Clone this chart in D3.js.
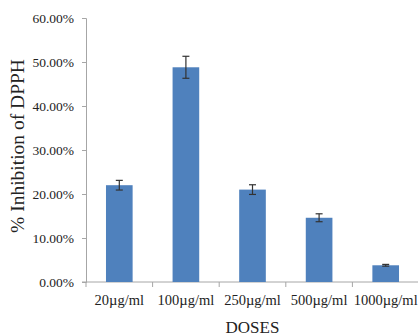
<!DOCTYPE html>
<html>
<head>
<meta charset="utf-8">
<script src="https://cdn.jsdelivr.net/npm/d3@7"></script>
<style>
  html, body { margin: 0; padding: 0; background: #fff; }
  svg { display: block; }
</style>
</head>
<body>
<svg id="chart" width="418" height="336"></svg>
<script>
// DPPH inhibition by dose (mean ± error)
const doses = ["20µg/ml", "100µg/ml", "250µg/ml", "500µg/ml", "1000µg/ml"];
const inhibition = [0.220, 0.488, 0.210, 0.146, 0.038];
const errors = [0.011, 0.025, 0.011, 0.009, 0.002];
const yTicks = [0, 0.1, 0.2, 0.3, 0.4, 0.5, 0.6];

const svg = d3.select("#chart");
const plotLeft = 86, plotRight = 419, plotTop = 18, plotBottom = 282;
const font = "'Liberation Serif', 'Times New Roman', serif";
const axisColor = "#a6a6a6";

const x = d3.scaleBand().domain(doses).range([plotLeft, plotRight])
  .paddingInner(0.6).paddingOuter(0.3);
const y = d3.scaleLinear().domain([0, 0.6]).range([plotBottom, plotTop]);

// y axis
const yAxis = svg.append("g").attr("transform", `translate(${plotLeft},0)`)
  .call(d3.axisLeft(y).tickValues(yTicks).tickSize(4).tickPadding(8)
    .tickFormat(d => (d * 100).toFixed(2) + "%"));
yAxis.select(".domain").attr("stroke", axisColor);
yAxis.selectAll(".tick line").attr("stroke", axisColor);
yAxis.selectAll(".tick text").attr("font-family", font).attr("font-size", 13.5)
  .attr("fill", "#222");

// x axis baseline with category separators
const xg = svg.append("g");
xg.append("line").attr("x1", plotLeft - 4).attr("x2", plotRight)
  .attr("y1", plotBottom).attr("y2", plotBottom).attr("stroke", axisColor);
const bounds = doses.map(d => x(d) - x.step() * 0.3).concat([plotRight]);
xg.selectAll("line.sep").data(bounds).join("line").attr("class", "sep")
  .attr("x1", d => d).attr("x2", d => d).attr("y1", plotBottom).attr("y2", plotBottom + 5)
  .attr("stroke", axisColor);
xg.selectAll("text").data(doses).join("text")
  .attr("x", d => x(d) + x.bandwidth() / 2).attr("y", 305)
  .attr("text-anchor", "middle").attr("font-family", font).attr("font-size", 14.5)
  .attr("fill", "#222").text(d => d);

// bars
svg.append("g").selectAll("rect").data(doses).join("rect")
  .attr("x", d => x(d)).attr("width", x.bandwidth())
  .attr("y", (d, i) => y(inhibition[i]))
  .attr("height", (d, i) => y(0) - y(inhibition[i]))
  .attr("fill", "#4f81bd");

// error bars
const eg = svg.append("g").attr("stroke", "#333").attr("stroke-width", 1.2);
doses.forEach((d, i) => {
  const cx = x(d) + x.bandwidth() / 2;
  const hi = y(inhibition[i] + errors[i]), lo = y(inhibition[i] - errors[i]);
  eg.append("line").attr("x1", cx).attr("x2", cx).attr("y1", hi).attr("y2", lo);
  eg.append("line").attr("x1", cx - 3.5).attr("x2", cx + 3.5).attr("y1", hi).attr("y2", hi);
  eg.append("line").attr("x1", cx - 3.5).attr("x2", cx + 3.5).attr("y1", lo).attr("y2", lo);
});

// axis titles
svg.append("text").attr("transform", `translate(24,146) rotate(-90)`)
  .attr("text-anchor", "middle").attr("font-family", font).attr("font-size", 19.5)
  .attr("fill", "#222").text("% Inhibition of DPPH");
svg.append("text").attr("x", (plotLeft + plotRight) / 2).attr("y", 333)
  .attr("text-anchor", "middle").attr("font-family", font).attr("font-size", 17)
  .attr("fill", "#222").text("DOSES");
</script>
</body>
</html>
